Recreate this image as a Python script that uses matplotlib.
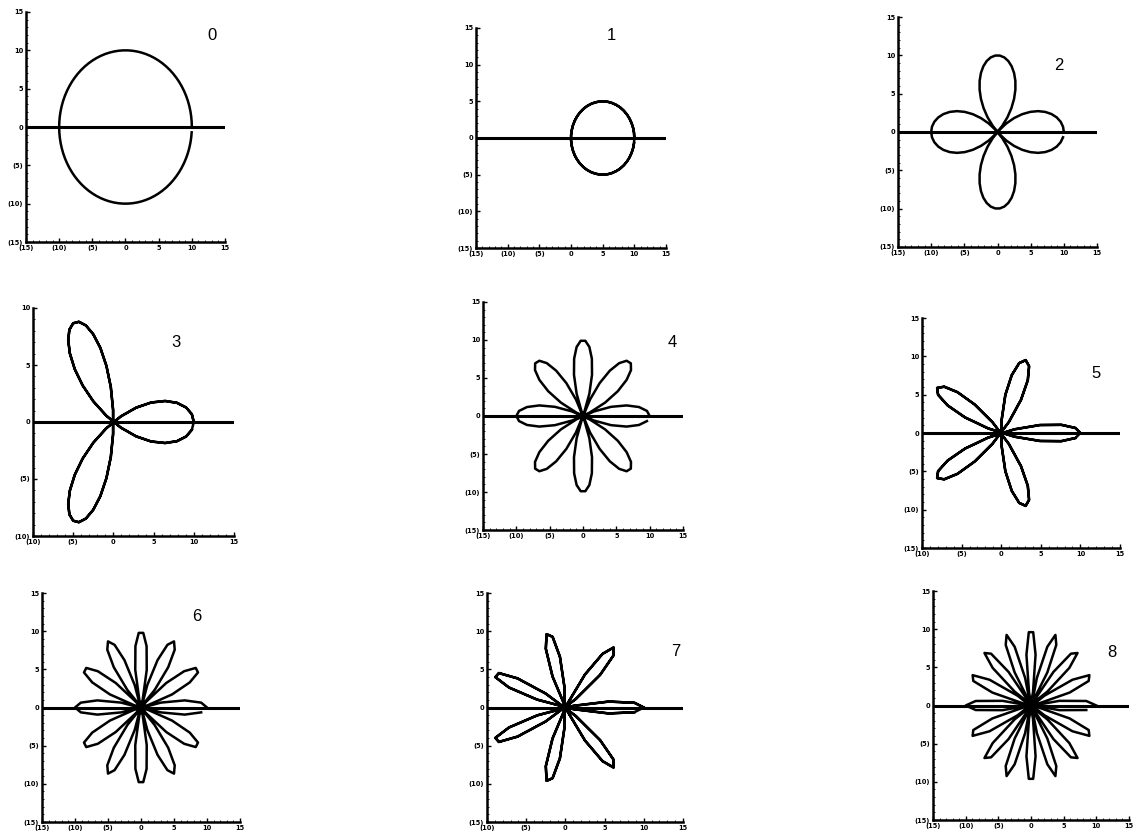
import numpy as np
import matplotlib
matplotlib.use('Agg')
import matplotlib.pyplot as plt
from matplotlib.ticker import FuncFormatter, MultipleLocator

# rose curves r = A*cos(k*theta), one panel per k
petal_counts = [0, 1, 2, 3, 4, 5, 6, 7, 8]
amplitude = 10
angle_step_deg = 4

# axis ranges used by each panel
x_min = [-15, -15, -15, -10, -15, -10, -15, -10, -15]
x_max = [15, 15, 15, 15, 15, 15, 15, 15, 15]
y_min = [-15, -15, -15, -10, -15, -15, -15, -15, -15]
y_max = [15, 15, 15, 10, 15, 15, 15, 15, 15]

# panel boxes in pixels (left, top, right, bottom) and label spots in data units
boxes = [
    (26, 12, 225, 242), (476, 28, 666, 248), (898, 17, 1097, 247),
    (33, 308, 234, 536), (483, 302, 683, 530), (922, 318, 1120, 548),
    (42, 593, 240, 822), (487, 593, 683, 822), (933, 591, 1129, 820),
]
label_xy = [
    (13.0, 12.0), (6.3, 14.0), (9.3, 8.7),
    (7.8, 7.0), (13.4, 9.7), (12.0, 7.7),
    (8.5, 11.9), (14.1, 7.4), (12.4, 7.0),
]

W, H = 1136, 835


def paren_fmt(v, pos):
    v = int(round(v))
    return f"({abs(v)})" if v < 0 else f"{v}"


fig = plt.figure(figsize=(W / 100, H / 100), dpi=100)
fig.patch.set_facecolor('white')

# the trace is left open: it stops one step short of a full turn
theta = np.deg2rad(np.arange(0, 360, angle_step_deg))

for i, k in enumerate(petal_counts):
    l, t, r, b = boxes[i]
    ax = fig.add_axes([l / W, 1 - b / H, (r - l) / W, (b - t) / H])

    rad = amplitude * np.cos(k * theta)
    ax.plot(rad * np.cos(theta), rad * np.sin(theta), color='black', lw=1.8,
            solid_joinstyle='round')
    ax.axhline(0, color='black', lw=2.2)

    ax.set_xlim(x_min[i], x_max[i])
    ax.set_ylim(y_min[i], y_max[i])
    ax.xaxis.set_major_locator(MultipleLocator(5))
    ax.yaxis.set_major_locator(MultipleLocator(5))
    ax.xaxis.set_minor_locator(MultipleLocator(1))
    ax.yaxis.set_minor_locator(MultipleLocator(1))
    ax.xaxis.set_major_formatter(FuncFormatter(paren_fmt))
    ax.yaxis.set_major_formatter(FuncFormatter(paren_fmt))

    for side in ('top', 'right'):
        ax.spines[side].set_visible(False)
    for side in ('left', 'bottom'):
        ax.spines[side].set_linewidth(1.8)

    ax.tick_params(which='major', direction='in', length=3, width=1,
                   labelsize=4.8, pad=2)
    ax.tick_params(which='minor', direction='in', length=1.2, width=0.6)
    for lab in ax.get_xticklabels() + ax.get_yticklabels():
        lab.set_fontweight('bold')

    ax.text(label_xy[i][0], label_xy[i][1], str(k), fontsize=12,
            ha='center', va='center', family='Liberation Sans')
    ax.set_facecolor('none')

fig.savefig('out.png', dpi=100, facecolor='white')
